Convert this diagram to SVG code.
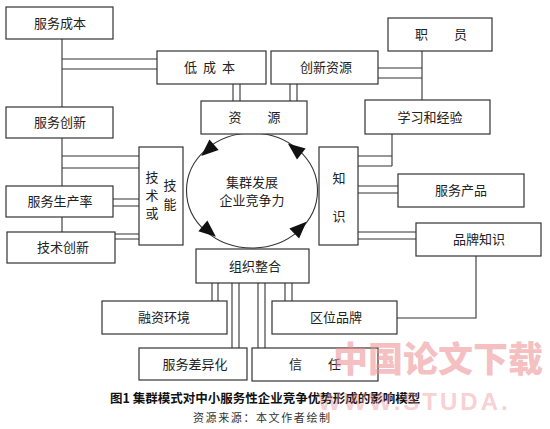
<svg xmlns="http://www.w3.org/2000/svg" width="550" height="429" viewBox="0 0 550 429">
<style>
  .box { fill: #fff; stroke: #333; stroke-width: 1.2; }
  .ln { fill: none; stroke: #333; stroke-width: 1.1; }
  .t { font-family: "Noto Sans CJK SC", "Noto Sans", sans-serif; font-size: 13px; fill: #222; text-anchor: middle; }
  .cap { font-family: "Noto Sans CJK SC", sans-serif; font-size: 12.5px; font-weight: bold; fill: #111; }
  .src { font-family: "Noto Sans CJK SC", sans-serif; font-size: 11px; fill: #333; letter-spacing: 1.6px; }
  .wm { font-family: "Noto Sans CJK SC", sans-serif; font-weight: 900; fill: #ec8e92; opacity: 0.55; }
</style>
<defs>
  <polygon id="ah" points="9,0 -8,-7 -8,7" fill="#111"/>
</defs>
<rect width="550" height="429" fill="#fff"/>

<g id="connectors">
  <path class="ln" d="M62,39 V107 M62,138 V186 M62,217 V232"/>
  <path class="ln" d="M62,59 H157 M62,69 H157"/>
  <path class="ln" d="M233,84 V101 M240,84 V101 M290,84 V101 M297,84 V101"/>
  <path class="ln" d="M422,51 V100 M378,68 H422 M378,78 H422"/>
  <path class="ln" d="M392,134 V166 M358,156 H392 M358,166 H392"/>
  <path class="ln" d="M358,186 H398 M358,193 H398"/>
  <path class="ln" d="M358,232 H416 M358,239 H416"/>
  <path class="ln" d="M476,256 V318 H397"/>
  <path class="ln" d="M212,283 V301 M218,283 V301 M232,283 V348 M239,283 V348 M258,283 V348 M265,283 V348 M285,283 V301 M292,283 V301"/>
  <path class="ln" d="M62,156 H139 M62,168 H139 M113,199 H139 M113,206 H139 M115,234 H139 M115,239 H139"/>
</g>

<g id="cycle">
  <ellipse class="ln" cx="252" cy="190.5" rx="65.5" ry="57.5"/>
  <use href="#ah" transform="translate(208,150) rotate(139)"/>
  <use href="#ah" transform="translate(295,149) rotate(-142)"/>
  <use href="#ah" transform="translate(209,231) rotate(40)"/>
  <use href="#ah" transform="translate(300,228) rotate(-44)"/>
  <text class="t" x="252" y="187">集群发展</text>
  <text class="t" x="252" y="205">企业竞争力</text>
</g>

<g id="n-fwcb"><rect class="box" x="6" y="7" width="107" height="32"/><text class="t" x="60" y="28">服务成本</text></g>
<g id="n-dcb"><rect class="box" x="157" y="51" width="109" height="33"/><text class="t" x="184" y="72" style="text-anchor:start;letter-spacing:6px">低成本</text></g>
<g id="n-cxzy"><rect class="box" x="271" y="51" width="107" height="33"/><text class="t" x="326" y="72">创新资源</text></g>
<g id="n-zy"><rect class="box" x="388" y="18" width="104" height="33"/><text class="t" x="441" y="39">职　　员</text></g>
<g id="n-zyuan"><rect class="box" x="201" y="101" width="106" height="33"/><text class="t" x="254.5" y="122">资　　源</text></g>
<g id="n-xxjy"><rect class="box" x="365" y="100" width="125" height="34"/><text class="t" x="430" y="122">学习和经验</text></g>
<g id="n-fwcx"><rect class="box" x="6" y="107" width="107" height="31"/><text class="t" x="60" y="127">服务创新</text></g>
<g id="n-jsjn"><rect class="box" x="139" y="147" width="44" height="98"/>
  <text class="t" x="152" y="182">技</text><text class="t" x="152" y="200">术</text><text class="t" x="152" y="218">或</text>
  <text class="t" x="170" y="190">技</text><text class="t" x="170" y="209">能</text></g>
<g id="n-zs"><rect class="box" x="319" y="147" width="39" height="98"/>
  <text class="t" x="339" y="183">知</text><text class="t" x="339" y="221">识</text></g>
<g id="n-fwscl"><rect class="box" x="6" y="186" width="107" height="31"/><text class="t" x="60" y="206">服务生产率</text></g>
<g id="n-jscx"><rect class="box" x="7" y="232" width="108" height="31"/><text class="t" x="63" y="252">技术创新</text></g>
<g id="n-fwcp"><rect class="box" x="398" y="174" width="126" height="33"/><text class="t" x="461" y="195">服务产品</text></g>
<g id="n-ppzs"><rect class="box" x="416" y="223" width="125" height="33"/><text class="t" x="479" y="244">品牌知识</text></g>
<g id="n-zzzh"><rect class="box" x="196" y="249" width="113" height="34"/><text class="t" x="255" y="271">组织整合</text></g>
<g id="n-rzhj"><rect class="box" x="102" y="301" width="125" height="33"/><text class="t" x="164" y="322">融资环境</text></g>
<g id="n-qwpp"><rect class="box" x="272" y="301" width="125" height="33"/><text class="t" x="336" y="322">区位品牌</text></g>
<g id="n-fwcyh"><rect class="box" x="139" y="348" width="108" height="32"/><text class="t" x="195" y="369">服务差异化</text></g>
<g id="n-xr"><rect class="box" x="252" y="348" width="126" height="33"/><text class="t" x="315" y="369">信　　任</text></g>

<text class="cap" x="110" y="403">图1 集群模式对中小服务性企业竞争优势形成的影响模型</text>
<text class="src" x="193" y="422">资源来源：本文作者绘制</text>

<g id="watermark">
  <text class="wm" x="333" y="372" style="font-size:35px;letter-spacing:0px">中国论文下载</text>
  <text class="wm" x="318" y="410" style="font-family:'Liberation Sans',sans-serif;font-size:24px;font-weight:bold;letter-spacing:3px;opacity:0.4">WWW.STUDA.</text>
</g>
</svg>
